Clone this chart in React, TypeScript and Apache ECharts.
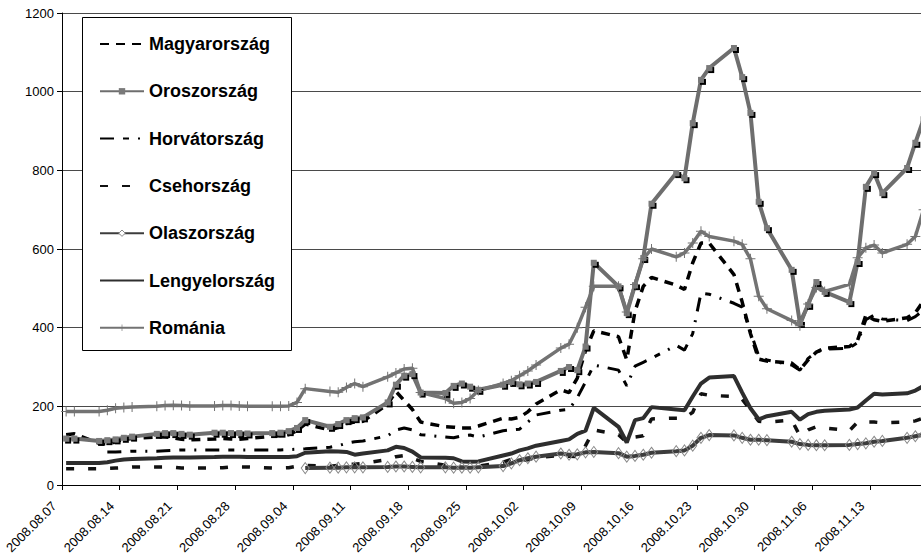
import React, { useEffect, useRef } from 'react';
import * as echarts from 'echarts';

const dates = [
  '2008.08.07', '2008.08.08', '2008.08.11', '2008.08.12', '2008.08.13', '2008.08.14', '2008.08.15',
  '2008.08.18', '2008.08.19', '2008.08.20', '2008.08.21', '2008.08.22',
  '2008.08.25', '2008.08.26', '2008.08.27', '2008.08.28', '2008.08.29',
  '2008.09.01', '2008.09.02', '2008.09.03', '2008.09.04', '2008.09.05',
  '2008.09.08', '2008.09.09', '2008.09.10', '2008.09.11', '2008.09.12',
  '2008.09.15', '2008.09.16', '2008.09.17', '2008.09.18', '2008.09.19',
  '2008.09.22', '2008.09.23', '2008.09.24', '2008.09.25', '2008.09.26',
  '2008.09.29', '2008.09.30', '2008.10.01', '2008.10.02', '2008.10.03',
  '2008.10.06', '2008.10.07', '2008.10.08', '2008.10.09', '2008.10.10',
  '2008.10.13', '2008.10.14', '2008.10.15', '2008.10.16', '2008.10.17',
  '2008.10.20', '2008.10.21', '2008.10.22', '2008.10.23', '2008.10.24',
  '2008.10.27', '2008.10.28', '2008.10.29', '2008.10.30', '2008.10.31',
  '2008.11.03', '2008.11.04', '2008.11.05', '2008.11.06', '2008.11.07',
  '2008.11.10', '2008.11.11', '2008.11.12', '2008.11.13', '2008.11.14',
  '2008.11.17', '2008.11.18', '2008.11.19',
];

const magyarorszag = [
  128, 130, 106, 104, 110, 116, 118,
  122, 122, 120, 116, 115,
  117, 118, 117, 116, 118,
  124, 125, 128, 138, 155,
  140, 146, 156, 160, 162,
  205, 238, 215, 192, 160,
  148, 147, 145, 145, 150,
  170, 168, 172, 186, 206,
  242, 235, 272, 342, 392,
  377, 318, 442, 505, 528,
  508, 497, 565, 615, 615,
  535, 465, 385, 320, 315,
  310, 293, 318, 338, 348,
  352, 368, 432, 420, 416,
  425, 438, 468,
];

const oroszorszag = [
  118, 118, 112, 114, 116, 120, 123,
  130, 132, 132, 130, 128,
  133, 133, 132, 132, 131,
  132, 133, 137, 145, 165,
  148, 155, 165, 170, 172,
  210, 255, 278, 282, 235,
  234, 252, 258, 250, 242,
  255, 262, 256, 258, 262,
  290, 300, 292, 352, 565,
  505, 437, 508, 577, 715,
  793, 780, 920, 1030, 1060,
  1111, 1037, 946, 720, 653,
  547, 412, 458, 516, 491,
  465, 567, 758, 793, 742,
  806, 870, 930,
];

const horvatorszag = [
  null, null, null, 84, 84, 85, 86,
  86, 87, 88, 89, 89,
  89, 89, 89, 89, 89,
  89, 89, 90, 91, 92,
  96, 100, 106, 110, 112,
  125, 140, 145, 140, 128,
  122, 120, 125, 127, 122,
  138, 140, 142, 160, 178,
  190, 192, 222, 262, 305,
  292, 252, 302, 312, 322,
  355, 343, 385, 488, 485,
  462, 452, 390, 328, 318,
  305, 292, 322, 338, 345,
  348, 362, 420, 432, 422,
  418, 428, 445,
];

const csehorszag = [
  41, 41, 41, 42, 43, 44, 46,
  46, 46, 45, 43, 43,
  43, 44, 46, 46, 46,
  43, 43, 44, 48, 50,
  48, 50, 52, 53, 55,
  65, 72, 75, 68, 60,
  50, 47, 45, 45, 48,
  58, 65, 62, 64, 70,
  75, 73, 72, 100, 140,
  128, 108, 122, 125, 168,
  170, 170, 185, 232, 228,
  225, 218, 190, 162, 160,
  165, 125, 140, 148, 145,
  138, 160, 160, 160, 158,
  160, 163, 170,
];

const olaszorszag = [
  null, null, null, null, null, null, null,
  null, null, null, null, null,
  null, null, null, null, null,
  null, null, null, null, 43,
  44, 44, 45, 45, 45,
  46, 47, 47, 46, 45,
  45, 44, 44, 44, 45,
  48, 55, 63, 68, 72,
  80, 77, 78, 83, 84,
  81, 72, 74, 77, 82,
  86, 88, 100, 120, 127,
  126, 120, 115, 115, 114,
  110, 104, 102, 101, 101,
  102, 104, 106, 110, 112,
  120, 124, 128,
];

const lengyelorszag = [
  56, 56, 56, 58, 62, 65, 66,
  68, 69, 70, 70, 70,
  71, 72, 72, 72, 71,
  71, 71, 71, 73, 82,
  86, 85, 84, 77, 80,
  88, 97, 94, 85, 70,
  69, 68, 60, 59, 60,
  75, 80, 88, 93, 100,
  112, 116, 130, 138, 196,
  148, 108, 165, 170, 198,
  192, 190, 225, 258, 273,
  277, 235, 195, 167, 175,
  186, 166, 180, 186, 189,
  192, 197, 215, 232, 230,
  233, 240, 252,
];

const romania = [
  187, 187, 187, 190, 195, 197, 198,
  200, 202, 203, 202, 201,
  201, 202, 202, 201, 200,
  200, 200, 201, 210, 245,
  238, 236, 248, 258, 250,
  275, 285, 295, 297, 235,
  220, 208, 210, 220, 240,
  258, 265, 278, 290, 305,
  348, 358, 400, 452, 505,
  505, 440, 510, 575, 600,
  580, 590, 615, 645, 632,
  620, 612, 575, 480, 448,
  418, 405, 460, 502, 492,
  510, 578, 603, 610, 590,
  612, 632, 700,
];

const seriesNames = ['Magyarország', 'Oroszország', 'Horvátország', 'Csehország', 'Olaszország', 'Lengyelország', 'Románia'];
const yTicks = [0, 200, 400, 600, 800, 1000, 1200];

const START = Date.UTC(2008, 7, 7);
const DAY = 86400000;
const X_MAX = 105;

function pad(n: number) {
  return n < 10 ? '0' + n : '' + n;
}
function dayPos(s: string) {
  const [y, m, d] = s.split('.').map(Number);
  return (Date.UTC(y, m - 1, d) - START) / DAY + 0.5;
}
function fmt(v: number) {
  const dt = new Date(START + Math.round(v) * DAY);
  return `${dt.getUTCFullYear()}.${pad(dt.getUTCMonth() + 1)}.${pad(dt.getUTCDate())}`;
}
function toData(vals: (number | null)[]) {
  const out: number[][] = [];
  vals.forEach((v, i) => {
    if (v !== null && v !== undefined) out.push([dayPos(dates[i]), v]);
  });
  return out;
}

const FONT = '"Liberation Sans", Arial, sans-serif';
const CLEAR = 'rgba(0,0,0,0)';

export default function App() {
  const ref = useRef<HTMLDivElement>(null);
  useEffect(() => {
    if (!ref.current) return;
    const chart = echarts.init(ref.current, undefined, { renderer: 'svg' });
    const plus = 'path://M-0.1,-1H0.1V-0.1H1V0.1H0.1V1H-0.1V0.1H-1V-0.1H-0.1Z';
    const legendData = seriesNames.map((n) =>
      n === 'Olaszország'
        ? { name: n, itemStyle: { color: '#fff', borderColor: '#888', borderWidth: 1 } }
        : { name: n }
    );
    const option: any = {
      animation: false,
      backgroundColor: '#fff',
      grid: { left: 62, top: 13, right: -6.7, bottom: 73, containLabel: false, outerBoundsMode: 'none' },
      xAxis: {
        type: 'value',
        min: 0,
        max: X_MAX,
        interval: 7,
        axisLine: { show: true, lineStyle: { color: '#000', width: 1 } },
        axisTick: { show: true, length: 5, lineStyle: { color: '#000' } },
        splitLine: { show: false },
        axisLabel: {
          rotate: 45,
          margin: 11,
          padding: [0, 11, 0, 0],
          fontSize: 13,
          fontFamily: FONT,
          color: '#000',
          formatter: (v: number) => (v >= X_MAX || v % 7 !== 0 ? '' : fmt(v)),
        },
      },
      yAxis: {
        type: 'value',
        min: yTicks[0],
        max: yTicks[yTicks.length - 1],
        interval: 200,
        axisLine: { show: true, lineStyle: { color: '#000', width: 1 } },
        axisTick: { show: true, length: 5, lineStyle: { color: '#000' } },
        splitLine: { show: true, lineStyle: { color: '#4a4a4a', width: 1 } },
        axisLabel: { fontSize: 13, fontFamily: FONT, color: '#000', margin: 8, formatter: (v: number) => String(v) },
      },
      legend: {
        orient: 'vertical',
        left: 99,
        top: 34,
        itemWidth: 44,
        itemHeight: 8,
        itemGap: 27.3,
        selectedMode: false,
        padding: 0,
        textStyle: { fontFamily: FONT, fontWeight: 'bold', fontSize: 18, color: '#000', lineHeight: 20 },
        data: legendData,
        z: 5,
      },
      graphic: [
        {
          type: 'rect',
          z: 4,
          shape: { x: 82.5, y: 17.5, width: 209, height: 333 },
          style: { fill: '#fff', stroke: '#000', lineWidth: 1 },
        },
      ],
      series: [
        {
          name: seriesNames[0],
          type: 'line',
          data: toData(magyarorszag),
          symbol: 'none',
          lineStyle: { color: '#000', width: 3.5, type: [9, 7] },
          itemStyle: { color: CLEAR },
        },
        {
          name: seriesNames[1],
          type: 'line',
          data: toData(oroszorszag),
          symbol: 'rect',
          symbolSize: 6,
          lineStyle: { color: '#6e6e6e', width: 4 },
          itemStyle: { color: '#7a7a7a', shadowColor: '#000', shadowBlur: 1, shadowOffsetX: 2, shadowOffsetY: 2 },
        },
        {
          name: seriesNames[2],
          type: 'line',
          data: toData(horvatorszag),
          symbol: 'none',
          lineStyle: { color: '#000', width: 3, type: [14, 9, 6, 9, 2, 9] },
          itemStyle: { color: CLEAR },
        },
        {
          name: seriesNames[3],
          type: 'line',
          data: toData(csehorszag),
          symbol: 'none',
          lineStyle: { color: '#111', width: 3.5, type: [8, 14] },
          itemStyle: { color: CLEAR },
        },
        {
          name: seriesNames[4],
          type: 'line',
          data: toData(olaszorszag),
          symbol: 'diamond',
          symbolSize: [8, 11],
          lineStyle: { color: '#3c3c3c', width: 4 },
          itemStyle: { color: CLEAR, borderColor: '#888', borderWidth: 1 },
        },
        {
          name: seriesNames[5],
          type: 'line',
          data: toData(lengyelorszag),
          symbol: 'none',
          lineStyle: { color: '#2e2e2e', width: 4 },
          itemStyle: { color: CLEAR },
        },
        {
          name: seriesNames[6],
          type: 'line',
          data: toData(romania),
          symbol: plus,
          symbolSize: 10,
          lineStyle: { color: '#737373', width: 3.5 },
          itemStyle: { color: '#737373' },
        },
      ],
    };
    chart.setOption(option);
    return () => chart.dispose();
  }, []);
  return <div ref={ref} style={{ position: 'fixed', left: 0, top: 0, width: 921, height: 558 }} />;
}
